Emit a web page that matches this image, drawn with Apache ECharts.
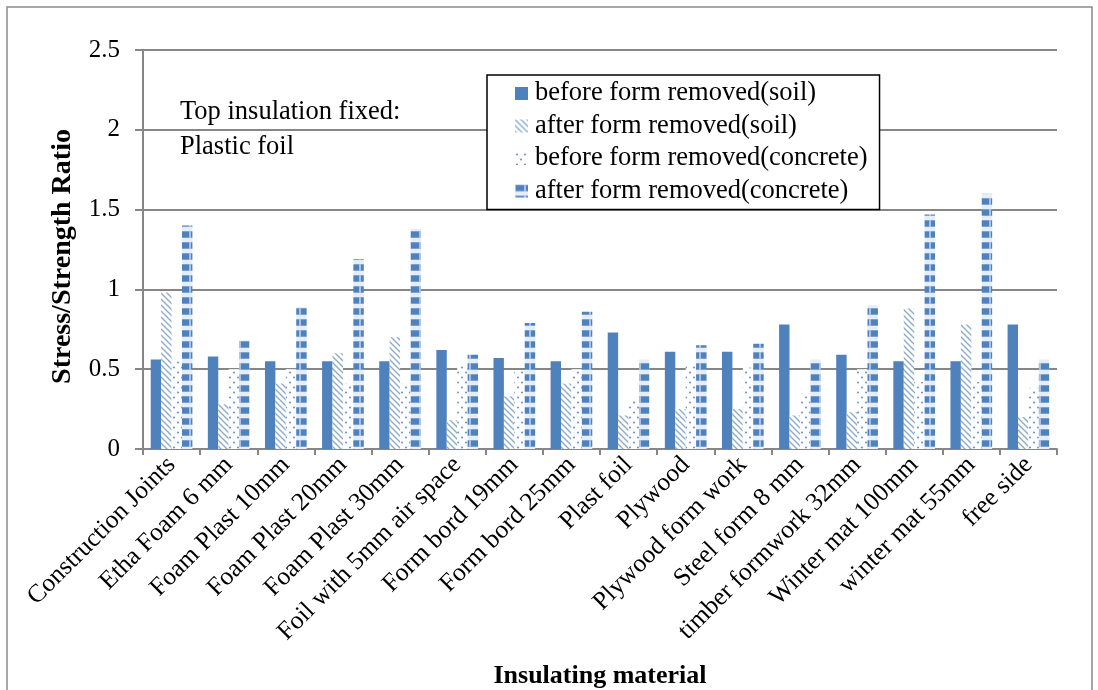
<!DOCTYPE html>
<html>
<head>
<meta charset="utf-8">
<script src="https://cdn.jsdelivr.net/npm/echarts@6/dist/echarts.min.js"></script>
<style>
html,body{margin:0;padding:0;background:#fff;}
#chart{width:1098px;height:690px;}
</style>
</head>
<body>
<div id="chart"></div>
<script>
const categories = ["Construction Joints","Etha Foam 6 mm","Foam Plast 10mm","Foam Plast 20mm","Foam Plast 30mm","Foil with 5mm air space","Form bord 19mm","Form bord 25mm","Plast foil","Plywood","Plywood form work","Steel form 8 mm","timber formwork 32mm","Winter mat 100mm","winter mat 55mm","free side"];
const beforeSoil     = [0.56,0.58,0.55,0.55,0.55,0.62,0.57,0.55,0.73,0.61,0.61,0.78,0.59,0.55,0.55,0.78];
const afterSoil      = [0.98,0.28,0.41,0.60,0.70,0.18,0.33,0.41,0.21,0.25,0.25,0.21,0.23,0.88,0.78,0.20];
const beforeConcrete = [0.55,0.50,0.50,0.41,0.41,0.52,0.49,0.50,0.31,0.52,0.51,0.35,0.50,0.42,0.42,0.38];
const afterConcrete  = [1.40,0.68,0.89,1.19,1.38,0.59,0.79,0.86,0.56,0.65,0.66,0.56,0.90,1.47,1.60,0.56];
const seriesNames = ["before form removed(soil)","after form removed(soil)","before form removed(concrete)","after form removed(concrete)"];
const yTicks = ["0","0.5","1","1.5","2","2.5"];

const BLUE = '#4F81BD';
const SERIF = '"Liberation Serif","Times New Roman",serif';

function hatchPattern(){
  const c=document.createElement('canvas'); c.width=6; c.height=6;
  const g=c.getContext('2d');
  g.fillStyle='#fff'; g.fillRect(0,0,6,6);
  g.strokeStyle='#8BABD6'; g.lineWidth=1.4;
  g.beginPath(); g.moveTo(-1,-1); g.lineTo(7,7); g.stroke();
  g.beginPath(); g.moveTo(-1,5); g.lineTo(1,7); g.stroke();
  g.beginPath(); g.moveTo(5,-1); g.lineTo(7,1); g.stroke();
  return {image:c,repeat:'repeat'};
}
function dotPattern(){
  const c=document.createElement('canvas'); c.width=8; c.height=10;
  const g=c.getContext('2d');
  g.fillStyle='#fff'; g.fillRect(0,0,8,10);
  g.fillStyle='#7399CC';
  g.beginPath(); g.arc(2,2.5,1.1,0,Math.PI*2); g.fill();
  g.beginPath(); g.arc(6,7.5,1.1,0,Math.PI*2); g.fill();
  return {image:c,repeat:'repeat'};
}
function stripePattern(){
  const c=document.createElement('canvas'); c.width=10; c.height=11;
  const g=c.getContext('2d');
  g.fillStyle='#E6EDF7'; g.fillRect(0,0,10,11);
  g.fillStyle='#A9C0E0'; g.fillRect(0,0,10,7);
  g.fillStyle=BLUE; g.fillRect(1,0.5,8,6);
  return {image:c,repeat:'repeat'};
}

const fills=[BLUE,hatchPattern(),dotPattern(),stripePattern()];
const datasets=[beforeSoil,afterSoil,beforeConcrete,afterConcrete];

const chart=echarts.init(document.getElementById('chart'),null,{renderer:'canvas'});
chart.setOption({
  backgroundColor:'#fff',
  animation:false,
  textStyle:{fontFamily:SERIF},
  grid:{left:143,right:41,top:50,bottom:241,containLabel:false,outerBoundsMode:'none'},
  legend:{
    orient:'vertical',left:487,top:75,
    backgroundColor:'#fff',borderColor:'#000',borderWidth:1.5,
    padding:[5,12,5,28],
    itemWidth:13,itemHeight:13,itemGap:5.5,
    icon:'rect',
    textStyle:{fontFamily:SERIF,fontSize:26.5,color:'#000',padding:[0,0,0,2]},
    data:seriesNames
  },
  xAxis:{
    type:'category',data:categories,
    name:'Insulating material',nameLocation:'middle',nameGap:214,
    nameTextStyle:{fontFamily:SERIF,fontSize:26,fontWeight:'bold',color:'#000'},
    axisLine:{lineStyle:{color:'#868686',width:2}},
    axisTick:{show:true,alignWithLabel:false,length:6,lineStyle:{color:'#868686',width:2}},
    axisLabel:{rotate:45,interval:0,margin:12,fontFamily:SERIF,fontSize:25.5,color:'#000'}
  },
  yAxis:{
    type:'value',min:0,max:2.5,interval:0.5,
    name:'Stress/Strength Ratio',nameLocation:'middle',nameGap:66,nameRotate:90,
    nameTextStyle:{fontFamily:SERIF,fontSize:28,fontWeight:'bold',color:'#000',padding:[0,14,0,0]},
    axisLine:{show:true,lineStyle:{color:'#868686',width:2}},
    axisTick:{show:true,length:8,lineStyle:{color:'#868686',width:2}},
    axisLabel:{margin:23,fontFamily:SERIF,fontSize:25,color:'#000',
      formatter:function(v){const i=Math.round(v/0.5);return yTicks[i]!==undefined?yTicks[i]:String(v);}},
    splitLine:{show:true,lineStyle:{color:'#868686',width:2}}
  },
  series:datasets.map((d,i)=>({
    name:seriesNames[i],type:'bar',data:d,
    barGap:'0%',barCategoryGap:'27%',
    itemStyle:{color:fills[i]},
    emphasis:{disabled:true}
  })),
  graphic:[
    {type:'rect',shape:{x:7,y:7,width:1085,height:700},style:{fill:'none',stroke:'#8a8a8a',lineWidth:1.5},silent:true,z:100},
    {type:'text',left:180,top:99,style:{text:'Top insulation fixed:',font:'26.5px '+SERIF,fill:'#000'},z:100},
    {type:'text',left:180,top:134,style:{text:'Plastic foil',font:'26.5px '+SERIF,fill:'#000'},z:100}
  ]
});
</script>
</body>
</html>
